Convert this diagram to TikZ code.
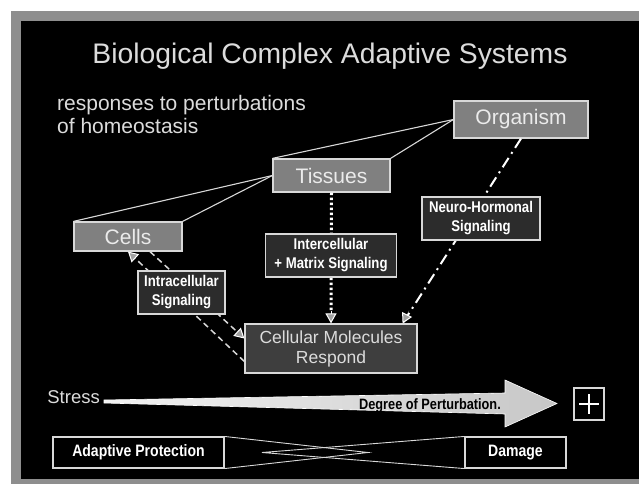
\documentclass[tikz,border=0pt]{standalone}
\usepackage{fontspec}
\setmainfont{Liberation Sans}
\newfontfamily\narrowfont{Liberation Sans}[FakeStretch=0.85]
\usetikzlibrary{arrows.meta,calc}
\definecolor{framegray}{HTML}{8E8E8E}
\definecolor{txt}{HTML}{DCDCDC}
\definecolor{boxgray}{HTML}{808080}
\definecolor{sigfill}{HTML}{2C2C2C}
\definecolor{cmrfill}{HTML}{3E3E3E}
\definecolor{edge}{HTML}{D8D8D8}
\begin{document}
\begin{tikzpicture}[x=1pt,y=-1pt,
  levelbox/.style={draw=edge, line width=1.2pt, fill=boxgray, text=white!92!black, inner sep=0pt,
    font=\fontsize{21}{23}\selectfont},
  sigbox/.style={draw=edge, line width=1.2pt, fill=sigfill, text=white, inner sep=0pt,
    align=center, font=\narrowfont\bfseries\fontsize{15.5}{19}\selectfont},
  bottombox/.style={draw=edge, line width=1.1pt, fill=black, text=white, inner sep=0pt,
    font=\narrowfont\bfseries\fontsize{16.5}{19}\selectfont},
  treeline/.style={edge, line width=1.1pt},
  tiphead/.style={-{Triangle[length=10pt,width=11pt,fill=gray!75,line width=1pt]}},
  dottedlink/.style={white, line width=3pt, dash pattern=on 2.5pt off 2.5pt},
  dashdotlink/.style={white, line width=2pt, dash pattern=on 11pt off 5pt on 2pt off 5pt},
  dashedlink/.style={edge, line width=1.5pt, dash pattern=on 6pt off 4pt}
]
\useasboundingbox (0,0) rectangle (639,484);
\fill[white] (0,0) rectangle (639,484);
\fill[framegray] (11,11) rectangle (639,484);
\fill[black] (21,21) rectangle (639,479);

% title and subtitle
\node[font=\fontsize{28.3}{30}\selectfont, text=txt, anchor=base] (title) at (330,64)
  {Biological Complex Adaptive Systems};
\node[font=\fontsize{21}{23}\selectfont, text=txt, anchor=north west, inner sep=0pt, align=left]
  (sub) at (57,95) {responses to perturbations\\of homeostasis};

% level boxes
\node[levelbox, minimum width=134pt, minimum height=37pt] (org) at (521,119.5) {Organism};
\node[levelbox, minimum width=117pt, minimum height=33pt] (tis) at (331.5,175.5) {Tissues};
\node[levelbox, minimum width=108pt, minimum height=29pt] (cel) at (128,236.5) {Cells};

% molecules box
\node[draw=edge, line width=1.2pt, fill=cmrfill, text=txt, inner sep=0pt, align=center,
  minimum width=172pt, minimum height=49pt,
  font=\fontsize{17.5}{20}\selectfont] (cmr) at (331,348.5) {Cellular Molecules\\Respond};

% hierarchy lines
\draw[treeline] (org.west) -- (tis.north west);
\draw[treeline] (org.west) -- (tis.north east);
\draw[treeline] (tis.west) -- (cel.north west);
\draw[treeline] (tis.west) -- (cel.north east);

% signalling connectors
\draw[dottedlink] (tis.south) -- ($(cmr.north)+(0,-11)$);
\draw[tiphead, white, line width=0.1pt] ($(cmr.north)+(0,-12)$) -- (cmr.north);
\draw[dashdotlink] (org.south) -- ($(cmr.north east)+(-15,0)$);
\draw[tiphead, white, line width=0.1pt] ($(cmr.north east)+(-8.5,-13)$) -- ($(cmr.north east)+(-15,0)$);
\draw[dashedlink] ($(cmr.west)+(0,13)$) -- (cel.south);
\draw[tiphead, white, line width=0.1pt] ($(cel.south)+(7.2,6.6)$) -- (cel.south);
\draw[dashedlink] ($(cel.south)+(22,0)$) -- ($(cmr.west)+(0,-10)$);
\draw[tiphead, white, line width=0.1pt] ($(cmr.west)+(-7.4,-16.8)$) -- ($(cmr.west)+(0,-10)$);

% signalling labels
\node[sigbox, minimum width=87pt, minimum height=43pt] (intra) at (181.5,292.5) {Intracellular\\Signaling};
\node[sigbox, minimum width=131pt, minimum height=43pt] (inter) at (331,255.5) {Intercellular\\+ Matrix Signaling};
\node[sigbox, minimum width=118pt, minimum height=43pt] (neuro) at (481,218.5) {Neuro-Hormonal\\Signaling};

% stress arrow
\node[font=\fontsize{18.5}{20}\selectfont, text=txt, anchor=east, inner sep=0pt] (stress) at (100,397.5) {Stress};
\shade[left color=white!95!black, right color=white!78!black, draw=white, line width=0.6pt]
  (104,400) -- (505,393) -- (505,380) -- (557,403.5) -- (505,427) -- (505,414) -- (104,403) -- cycle;
\node[font=\narrowfont\bfseries\fontsize{15}{16}\selectfont, text=black, anchor=east, inner sep=0pt]
  (deg) at (501,406) {Degree of Perturbation.};
\node[draw=edge, line width=1.2pt, fill=black, minimum width=30pt, minimum height=32pt, inner sep=0pt]
  (plus) at (589,404) {};
\draw[white, line width=2pt] ($(plus.center)+(-10,0)$) -- ($(plus.center)+(10,0)$);
\draw[white, line width=2pt] ($(plus.center)+(0,-10)$) -- ($(plus.center)+(0,10)$);

% bottom boxes
\node[bottombox, minimum width=171pt, minimum height=31pt] (ap) at (138.5,452.5) {Adaptive Protection};
\node[bottombox, minimum width=101pt, minimum height=31pt] (dmg) at (515.5,452.5) {Damage};
\coordinate (apTip) at (368,452.5);
\coordinate (dmgTip) at (262,452.5);
\draw[edge, line width=0.9pt] (ap.north east) -- (apTip) -- (ap.south east);
\draw[edge, line width=0.9pt] (dmg.north west) -- (dmgTip) -- (dmg.south west);
\end{tikzpicture}
\end{document}
